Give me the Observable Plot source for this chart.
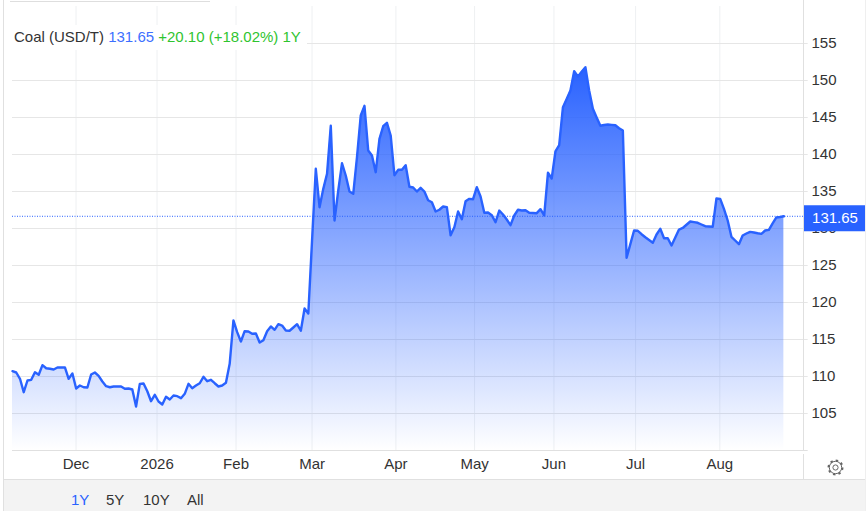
<!DOCTYPE html>
<html>
<head>
<meta charset="utf-8">
<script src="https://cdn.jsdelivr.net/npm/d3@7"></script>
<script src="https://cdn.jsdelivr.net/npm/@observablehq/plot@0.6"></script>
<style>
html,body{margin:0;padding:0;background:#fff;overflow:hidden}
#wrap{position:relative;width:867px;height:511px;font-family:"Liberation Sans",Arial,sans-serif;color:#333}
#wrap svg{display:block}
.abs{position:absolute}
#title{left:12px;top:25px;width:295px;height:25px;background:#fff;font-size:15px;line-height:23px;padding-left:2px;box-sizing:border-box;white-space:nowrap}
#footer{left:4px;top:479px;width:861px;height:32px;background:#f3f3f3;border-top:1px solid #e0e0e0;box-sizing:border-box;font-size:15px}
#footer span{position:absolute;top:12px;line-height:16px}
</style>
</head>
<body>
<div id="wrap"></div>
<script>
const values = [
110.72,110.54,109.69,107.88,109.46,109.55,110.58,110.23,111.53,111.12,
111.04,110.95,111.22,111.22,111.22,109.69,110.41,108.38,108.78,108.55,
108.51,110.27,110.54,110.09,109.32,108.69,108.55,108.65,108.65,108.65,
108.34,108.38,108.24,105.95,109.01,109.05,108.01,106.66,107.53,106.62,
106.22,107.26,106.89,107.43,107.34,107.07,107.66,109.01,108.42,108.78,
109.09,109.96,109.36,109.55,109.09,108.65,108.78,109.15,111.72,117.57,
115.99,114.73,116.12,116.08,115.77,115.81,114.59,114.91,116.12,116.76,
116.31,117.07,116.89,116.22,116.18,116.62,117.07,116.18,119.19,118.51,
128.38,138.07,132.88,135.36,137.39,143.88,131.08,135.14,138.82,137.16,
135,134.69,139.64,145.27,146.58,140.54,139.86,137.61,142.12,143.82,
144.28,142.57,137.2,137.93,137.93,138.55,135.64,135.54,135,135.5,
135,133.82,133.55,132.3,132.53,132.97,132.88,129.09,130.18,132.3,
131.26,133.69,134.01,133.96,135.58,134.32,132.12,132.16,131.8,130.85,
132.43,131.89,131.22,130.45,131.76,132.53,132.43,132.47,132.12,132.09,
132.07,132.61,131.76,137.53,136.76,140.41,141.26,146.39,147.51,148.65,
151.26,150.54,151.18,151.8,148.65,146.18,145,143.88,143.99,144.05,
144.01,143.96,143.55,143.24,126.04,127.89,129.73,129.69,129.23,128.82,
128.45,128.07,129.19,129.96,128.69,128.68,127.7,128.78,129.86,130.07,
130.51,130.95,130.86,130.77,130.54,130.31,130.27,130.23,134.05,134.01,
132.66,131.08,128.88,128.38,127.88,129.05,129.32,129.55,129.46,129.36,
129.28,129.73,129.82,130.68,131.49,131.55,131.65
];
const monthSessions = [16.96,38.6,59.7,80,102.4,123.4,144.6,166.4,188.9];
const monthLabels = ["Dec","2026","Feb","Mar","Apr","May","Jun","Jul","Aug"];
const priceTicks = [105,110,115,120,125,130,135,140,145,150,155];
const lastPrice = 131.65;
const blue = "#2962ff";
const xEnd = 212.5, xAxis = 211.4, xBoxEnd = 228;

const gradient = () => {
  const defs = d3.create("svg:defs");
  const g = defs.append("linearGradient").attr("id","areaFade").attr("x1",0).attr("y1",0).attr("x2",0).attr("y2",1);
  g.append("stop").attr("offset","0%").attr("stop-color",blue).attr("stop-opacity",1);
  g.append("stop").attr("offset","100%").attr("stop-color",blue).attr("stop-opacity",0);
  return defs.node();
};

const chart = Plot.plot({
  width: 867, height: 479,
  marginTop: 6, marginBottom: 29, marginLeft: 12, marginRight: 59.3,
  style: {fontFamily:'"Liberation Sans",Arial,sans-serif', fontSize:"15px", color:"#333", background:"transparent"},
  x: {domain:[0,xEnd], axis:null},
  y: {domain:[100,160], axis:null},
  marks: [
    gradient,
    Plot.ruleX(monthSessions, {stroke:"#eef0f2", strokeWidth:1}),
    Plot.ruleY(priceTicks, {x1:0, x2:xEnd, stroke:"#e6e6e6", strokeWidth:1}),
    Plot.ruleY([100], {x1:0, x2:xEnd, stroke:"#e0e0e0", strokeWidth:1}),
    Plot.areaY(values, {x:(d,i)=>i, y1:100, y2:d=>d, fill:"url(#areaFade)"}),
    Plot.lineY(values, {x:(d,i)=>i, y:d=>d, stroke:blue, strokeWidth:2.4, strokeLinejoin:"round"}),
    Plot.axisX({anchor:"bottom", ticks:monthSessions, tickSize:0, tickPadding:8, fontSize:15,
      tickFormat:d=>monthLabels[monthSessions.indexOf(d)], label:null}),
    Plot.axisY({anchor:"right", ticks:priceTicks, tickSize:0, tickPadding:3.3, fontSize:15, label:null, tickFormat:d=>String(d)}),
    Plot.ruleY([lastPrice], {x1:0, x2:xAxis, stroke:blue, strokeWidth:1, strokeDasharray:"1,1.5"}),
    Plot.ruleY([lastPrice], {x1:xAxis, x2:xBoxEnd, stroke:blue, strokeWidth:26, dy:2}),
    Plot.text([lastPrice], {x:xAxis, y:d=>d, text:d=>d.toFixed(2), fill:"#fff", textAnchor:"start", dx:8, dy:2, fontSize:15})
  ]
});

const wrap = document.getElementById("wrap");
wrap.appendChild(chart);
function abs(css, html){const e=document.createElement("div");e.className="abs";e.style.cssText=css;if(html)e.innerHTML=html;wrap.appendChild(e);return e;}
abs("left:3px;top:0;width:1px;height:511px;background:#e0e0e0");
abs("left:10px;top:1px;width:200px;height:1px;background:#dedede");
abs("left:803px;top:0;width:1px;height:450px;background:#e0e0e0");
abs("left:803px;top:454px;width:1px;height:25px;background:#e0e0e0");
abs("left:865px;top:0;width:1px;height:511px;background:#efefef");
const title = abs("", '<span>Coal (USD/T)</span> <span style="color:#3d6fff">131.65</span> <span style="color:#2fc42f">+20.10 (+18.02%) 1Y</span>');
title.id = "title";
const footer = abs("", '<span style="left:67px;color:#2962ff">1Y</span><span style="left:102px">5Y</span><span style="left:139px">10Y</span><span style="left:183px">All</span>');
footer.id = "footer";
abs("left:827px;top:459px;width:17px;height:17px", `<svg width="17" height="17" viewBox="0 0 17 17" fill="none" stroke="#666">
<circle cx="8.5" cy="8.5" r="6.2" stroke-width="1"/><circle cx="8.5" cy="8.5" r="7" stroke-width="2" stroke-dasharray="2.4 3.1"/><circle cx="8.5" cy="8.5" r="2.6" stroke-width="1"/></svg>`);
</script>
</body>
</html>
